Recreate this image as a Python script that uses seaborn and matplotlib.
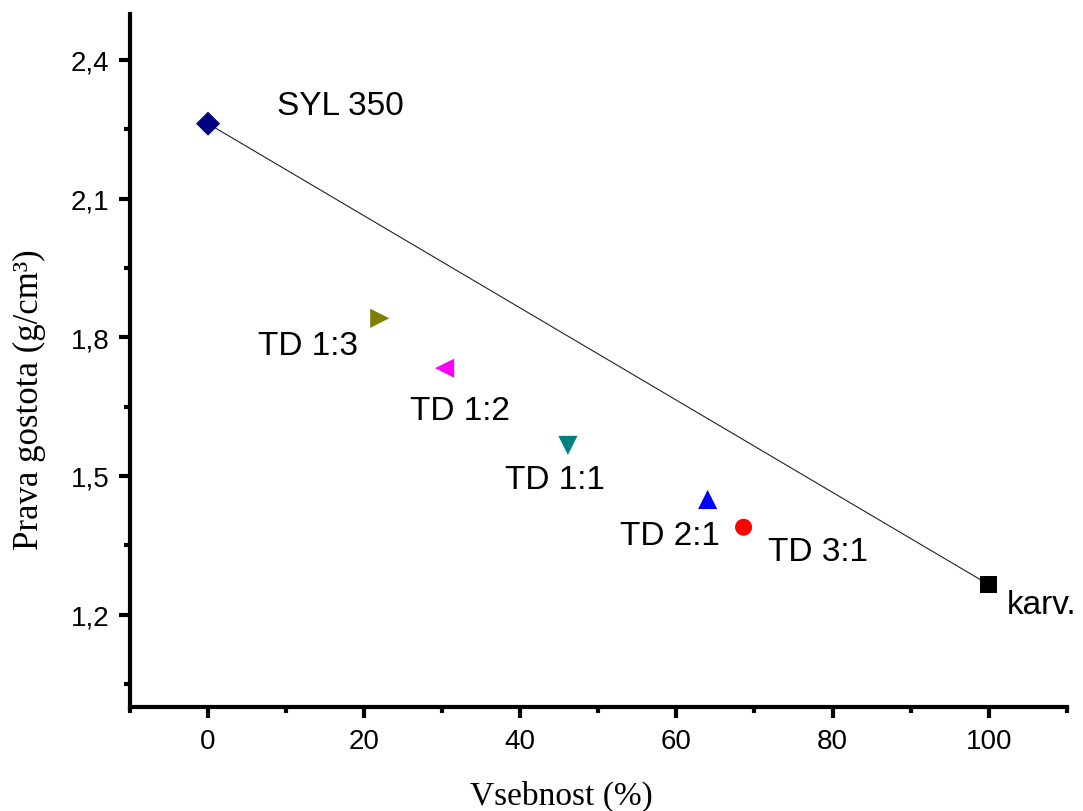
import matplotlib
matplotlib.use("Agg")
import matplotlib.pyplot as plt
import seaborn as sns
import pandas as pd
from matplotlib.ticker import MultipleLocator, FuncFormatter

# Sample names, content (%) and true density (g/cm3)
samples = ["SYL 350", "TD 1:3", "TD 1:2", "TD 1:1", "TD 2:1", "TD 3:1", "karv."]
content = [0.0, 22.0, 30.3, 46.1, 64.0, 68.6, 100.0]
density = [2.262, 1.841, 1.733, 1.566, 1.449, 1.389, 1.265]

colors = ["#000080", "#808000", "#FF00FF", "#008080", "#0000FF", "#FF0000", "#000000"]
markers = ["D", ">", "<", "v", "^", "o", "s"]
sizes = [150, 190, 190, 190, 190, 150, 140]

# label offsets in pixels and horizontal alignment
label_dx = [69, -22, -35, -63, 12, 24, 18]
label_dy = [18, -27, -42, -34, -36, -24, -20]
label_ha = ["left", "right", "left", "left", "right", "left", "left"]

df = pd.DataFrame({"sample": samples, "content": content, "density": density})
line_df = df[df["sample"].isin(["SYL 350", "karv."])]

sns.set_theme(style="ticks")
plt.rcParams["font.family"] = ["Liberation Sans", "DejaVu Sans"]
plt.rcParams["text.color"] = "black"
plt.rcParams["axes.labelcolor"] = "black"

fig = plt.figure(figsize=(10.83, 8.12), dpi=100)
ax = fig.add_axes([0.120, 0.128, 0.865, 0.854])

sns.lineplot(data=line_df, x="content", y="density", color="#222222",
             linewidth=0.8, ax=ax, zorder=1)

for i, s in enumerate(samples):
    sub = df[df["sample"] == s]
    sns.scatterplot(data=sub, x="content", y="density", marker=markers[i],
                    color=colors[i], s=sizes[i], edgecolor="none", ax=ax,
                    zorder=3, legend=False)
    ax.annotate(s, (content[i], density[i]), xytext=(label_dx[i], label_dy[i]),
                textcoords="offset pixels", ha=label_ha[i], va="center",
                fontsize=24, color="black", family=["Liberation Sans", "DejaVu Sans"])

ax.set_xlim(-10, 110)
ax.set_ylim(1.0, 2.5)
ax.xaxis.set_major_locator(MultipleLocator(20))
ax.xaxis.set_minor_locator(MultipleLocator(10))
ax.set_yticks([1.2, 1.5, 1.8, 2.1, 2.4])
ax.set_yticks([1.05, 1.35, 1.65, 1.95, 2.25], minor=True)
ax.yaxis.set_major_formatter(FuncFormatter(lambda v, p: f"{v:.1f}".replace(".", ",")))
ax.xaxis.set_major_formatter(FuncFormatter(lambda v, p: f"{v:.0f}"))

for side in ["top", "right"]:
    ax.spines[side].set_visible(False)
for side in ["left", "bottom"]:
    ax.spines[side].set_linewidth(3)
    ax.spines[side].set_color("black")

ax.tick_params(which="major", direction="out", length=8, width=3, labelsize=20,
               pad=7, color="black", labelcolor="black")
ax.tick_params(which="minor", direction="out", length=4.5, width=3, color="black")

ax.set_xlabel("Vsebnost (%)", fontsize=24, family=["Liberation Serif", "DejaVu Serif"])
ax.set_ylabel("Prava gostota (g/cm³)", fontsize=25, family=["Liberation Serif", "DejaVu Serif"])
ax.xaxis.set_label_coords(0.46, -0.105)
ax.yaxis.set_label_coords(-0.09, 0.444)

ax.set_facecolor("white")
fig.patch.set_facecolor("white")
fig.savefig("out.png", dpi=100, facecolor="white")
